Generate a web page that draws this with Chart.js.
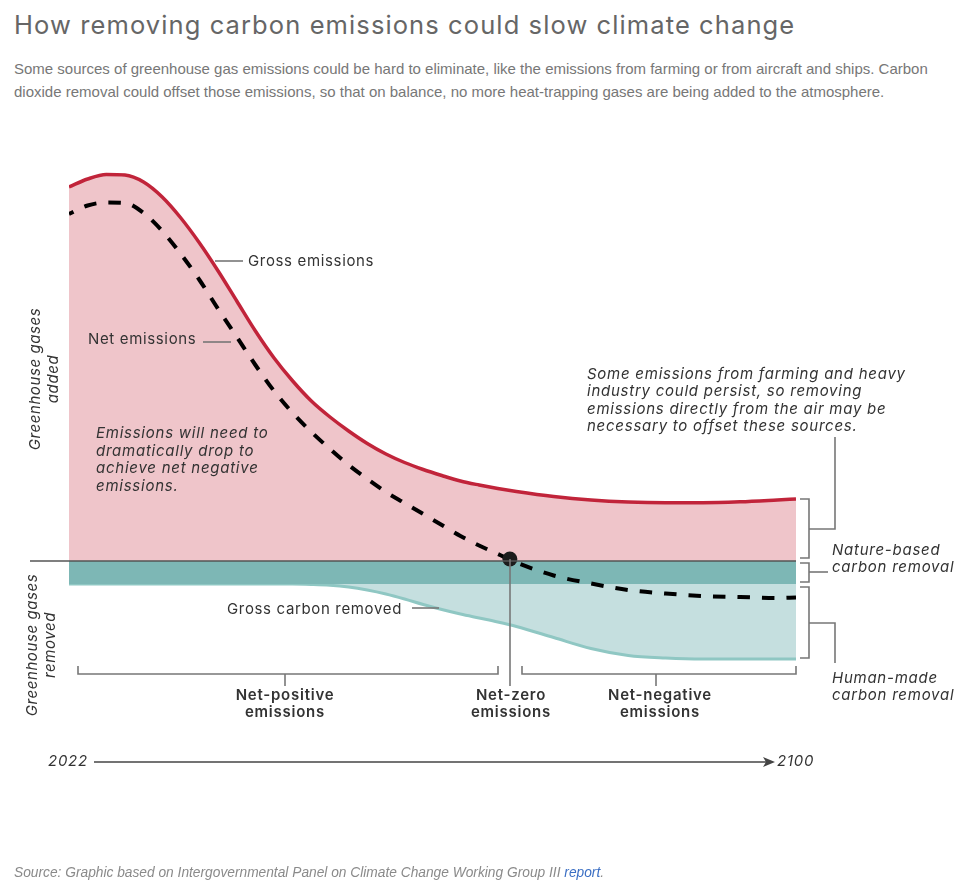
<!DOCTYPE html>
<html>
<head>
<meta charset="utf-8">
<script src="https://cdn.jsdelivr.net/npm/chart.js@4"></script>
<style>
  html, body { margin: 0; padding: 0; background: #fff; }
  #wrap { position: relative; width: 980px; height: 888px; overflow: hidden; }
  canvas { position: absolute; left: 0; top: 0; }
  h1 { position: absolute; left: 14px; top: 9px; margin: 0; font: 400 25.5px Inter, sans-serif; letter-spacing: 1.1px; color: #666; white-space: nowrap; }
  #sub { position: absolute; left: 14px; top: 57px; margin: 0; font: 15px/23px "Liberation Sans", sans-serif; color: #777; white-space: nowrap; }
  #source { position: absolute; left: 14px; top: 865px; margin: 0; font: italic 13.75px "Liberation Sans", sans-serif; color: #8a8a8a; white-space: nowrap; }
  #source a { color: #3b6fc4; text-decoration: none; }
</style>
</head>
<body>
<div id="wrap">
  <h1>How removing carbon emissions could slow climate change</h1>
  <p id="sub">Some sources of greenhouse gas emissions could be hard to eliminate, like the emissions from farming or from aircraft and ships. Carbon<br>dioxide removal could offset those emissions, so that on balance, no more heat-trapping gases are being added to the atmosphere.</p>
  <canvas id="chart" width="980" height="888"></canvas>
  <p id="source">Source: Graphic based on Intergovernmental Panel on Climate Change Working Group III <a href="#">report</a>.</p>
</div>
<script>
// Values (arbitrary units, the original has no y scale)
const years = [2022, 2024, 2026, 2028, 2030, 2032, 2034, 2036, 2038, 2040, 2042, 2044, 2046, 2048, 2050, 2052, 2054, 2056, 2058, 2060, 2062, 2064, 2066, 2068, 2070, 2074, 2078, 2082, 2086, 2090, 2094, 2098, 2100];
const grossEmissions = [37.4, 38.2, 38.65, 38.6, 37.9, 36.4, 34.3, 31.8, 29.0, 26.0, 23.0, 20.3, 18.0, 16.0, 14.4, 13.0, 11.75, 10.7, 9.85, 9.15, 8.55, 8.0, 7.6, 7.25, 6.95, 6.45, 6.1, 5.9, 5.83, 5.83, 5.92, 6.1, 6.2];
const netEmissions = [34.7, 35.55, 35.85, 35.8, 34.8, 33.0, 30.7, 28.1, 25.2, 22.4, 19.6, 17.0, 14.8, 12.9, 11.2, 9.6, 8.2, 6.9, 5.8, 4.7, 3.6, 2.5, 1.55, 0.7, -0.15, -1.45, -2.25, -2.9, -3.25, -3.5, -3.6, -3.7, -3.65];
const natureRemoved = [-2.3, -2.3, -2.3, -2.3, -2.3, -2.3, -2.3, -2.3, -2.3, -2.3, -2.3, -2.3, -2.3, -2.3, -2.3, -2.3, -2.3, -2.3, -2.3, -2.3, -2.3, -2.3, -2.3, -2.3, -2.3, -2.3, -2.3, -2.3, -2.3, -2.3, -2.3, -2.3, -2.3];
const grossRemoved = [-2.3, -2.3, -2.3, -2.3, -2.3, -2.3, -2.3, -2.3, -2.3, -2.3, -2.3, -2.3, -2.3, -2.34, -2.42, -2.6, -2.9, -3.3, -3.8, -4.35, -4.85, -5.3, -5.7, -6.1, -6.55, -7.65, -8.75, -9.45, -9.7, -9.8, -9.8, -9.8, -9.8];
const netZeroYear = [2069.3];
const netZeroValue = [0.2];

const asPoints = vals => vals.map((v, i) => ({ x: years[i], y: v }));

const sans = 'Inter, sans-serif';
const textColor = '#333';

// Annotation text: [text, x, baseline, font, align]
const plain = `400 15px ${sans}`;
const note = `italic 400 15px ${sans}`;
const bold = `600 15px ${sans}`;
const annotations = [
  ['Gross emissions', 248, 266, plain, 'left'],
  ['Net emissions', 88, 344, plain, 'left'],
  ['Gross carbon removed', 227, 614, plain, 'left'],
  ['Emissions will need to', 96, 438, note, 'left'],
  ['dramatically drop to', 96, 456, note, 'left'],
  ['achieve net negative', 96, 473, note, 'left'],
  ['emissions.', 96, 491, note, 'left'],
  ['Some emissions from farming and heavy', 587, 379, note, 'left'],
  ['industry could persist, so removing', 587, 396, note, 'left'],
  ['emissions directly from the air may be', 587, 414, note, 'left'],
  ['necessary to offset these sources.', 587, 431, note, 'left'],
  ['Nature-based', 832, 555, note, 'left'],
  ['carbon removal', 832, 572, note, 'left'],
  ['Human-made', 832, 683, note, 'left'],
  ['carbon removal', 832, 700, note, 'left'],
  ['Net-positive', 285, 700, bold, 'center'],
  ['emissions', 285, 717, bold, 'center'],
  ['Net-zero', 511, 700, bold, 'center'],
  ['emissions', 511, 717, bold, 'center'],
  ['Net-negative', 660, 700, bold, 'center'],
  ['emissions', 660, 717, bold, 'center'],
  ['2022', 48, 766, note, 'left'],
  ['2100', 777, 766, note, 'left']
];
// Rotated text: [text, x, centre y]
const sideLabels = [
  ['Greenhouse gases', 40, 379],
  ['added', 58, 379],
  ['Greenhouse gases', 37, 645],
  ['removed', 55, 645]
];
// Leader lines and brackets as pixel polylines
const guides = [
  [[215, 261], [243, 261]],
  [[203, 342], [231, 342]],
  [[412, 608], [439, 608]],
  [[800, 499], [809, 499], [809, 558], [800, 558]],
  [[809, 529], [835, 529], [835, 437]],
  [[800, 563], [809, 563], [809, 582], [800, 582]],
  [[809, 572], [828, 572]],
  [[800, 587], [809, 587], [809, 658], [800, 658]],
  [[809, 623], [835, 623], [835, 663]],
  [[78, 666], [78, 674], [498, 674], [498, 666]],
  [[285, 674], [285, 686]],
  [[522, 666], [522, 674], [796, 674], [796, 666]],
  [[656, 674], [656, 686]],
  [[510, 559], [510, 686]]
];

const overlay = {
  id: 'overlay',
  afterDraw(chart) {
    const c = chart.ctx;
    const x0 = chart.scales.x;
    const zeroY = chart.scales.y.getPixelForValue(0);
    c.save();
    // baseline
    c.strokeStyle = '#555';
    c.lineWidth = 1.5;
    c.beginPath();
    c.moveTo(30, zeroY);
    c.lineTo(x0.right, zeroY);
    c.stroke();
    // brackets and leaders
    c.strokeStyle = '#777';
    c.lineWidth = 1.6;
    guides.forEach(g => {
      c.beginPath();
      g.forEach((p, i) => i ? c.lineTo(p[0], p[1]) : c.moveTo(p[0], p[1]));
      c.stroke();
    });
    // time arrow
    c.strokeStyle = '#444';
    c.lineWidth = 1.3;
    c.beginPath();
    c.moveTo(94, 762);
    c.lineTo(770, 762);
    c.stroke();
    c.fillStyle = '#444';
    c.beginPath();
    c.moveTo(775, 762);
    c.lineTo(763, 757);
    c.lineTo(766, 762);
    c.lineTo(763, 767);
    c.closePath();
    c.fill();
    // text
    c.fillStyle = textColor;
    c.textBaseline = 'alphabetic';
    annotations.forEach(([t, x, y, font, align]) => {
      c.font = font;
      c.textAlign = align;
      c.letterSpacing = font === plain ? '0.65px' : '0.75px';
      c.fillText(t, x, y);
    });
    c.font = note;
    c.textAlign = 'center';
    c.letterSpacing = '0.6px';
    sideLabels.forEach(([t, x, y]) => {
      c.save();
      c.translate(x, y);
      c.rotate(-Math.PI / 2);
      c.fillText(t, 0, 0);
      c.restore();
    });
    c.restore();
  }
};

new Chart(document.getElementById('chart'), {
  type: 'line',
  data: {
    datasets: [
      { label: 'Net zero', data: [{ x: netZeroYear[0], y: netZeroValue[0] }], showLine: false, pointRadius: 7.5, pointBackgroundColor: '#1c1c1c', pointBorderWidth: 0, order: 0 },
      { label: 'Net emissions', data: asPoints(netEmissions), borderColor: '#000', borderWidth: 4, borderDash: [12.5, 12], borderDashOffset: 7.5, borderCapStyle: 'butt', fill: false, pointRadius: 0, order: 1 },
      { label: 'Nature-based removal', data: asPoints(natureRemoved), borderWidth: 0, backgroundColor: '#7db7b5', fill: 'origin', pointRadius: 0, order: 2 },
      { label: 'Gross carbon removed', data: asPoints(grossRemoved), borderColor: '#8fc7c3', borderWidth: 3, backgroundColor: '#c5dfdf', fill: 'origin', pointRadius: 0, order: 3 },
      { label: 'Gross emissions', data: asPoints(grossEmissions), borderColor: '#c1243a', borderWidth: 3.5, backgroundColor: '#efc5ca', fill: 'origin', pointRadius: 0, order: 4 }
    ]
  },
  options: {
    responsive: false,
    animation: false,
    layout: { padding: { left: 69, right: 184, top: 151, bottom: 197 } },
    plugins: { legend: { display: false }, tooltip: { enabled: false } },
    elements: { line: { cubicInterpolationMode: 'monotone' } },
    scales: {
      x: { type: 'linear', min: 2022, max: 2100, display: false },
      y: { min: -13, max: 41, display: false }
    }
  },
  plugins: [overlay]
});
</script>
</body>
</html>
